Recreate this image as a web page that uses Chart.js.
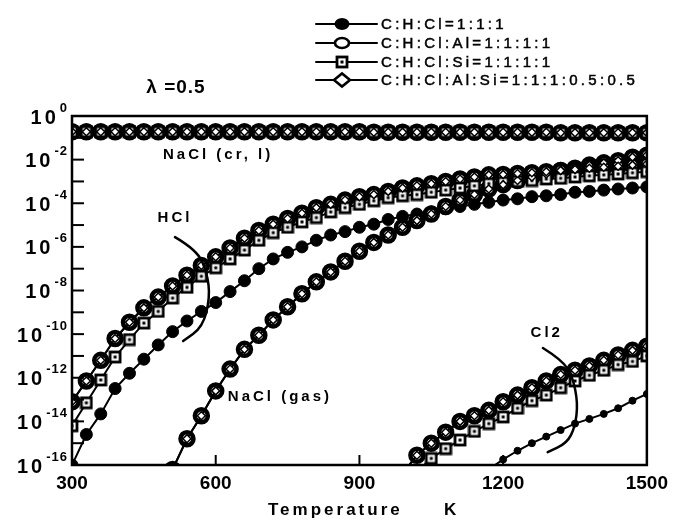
<!DOCTYPE html>
<html>
<head>
<meta charset="utf-8">
<script src="https://cdn.jsdelivr.net/npm/chart.js@4.4.1/dist/chart.umd.min.js"></script>
<style>
  html, body { margin: 0; padding: 0; background: #fff; }
  #wrap { width: 675px; height: 525px; }
</style>
</head>
<body>
<div id="wrap"><canvas id="chart" width="675" height="525"></canvas></div>
<script>
var ctx = document.getElementById("chart");

// sampling temperatures (K)
var temps = [300,330,360,390,420,450,480,510,540,570,600,630,660,690,720,750,780,810,840,870,
             900,930,960,990,1020,1050,1080,1110,1140,1170,1200,1230,1260,1290,1320,1350,1380,1410,1440,1470,1500];
var gasTemps = [510,540,570,600,630,660,690,720,750,780,810,840,870,900,930,960,990,1020,1050,1080,
                1110,1140,1170,1200,1230,1260,1290,1320,1350,1380,1410,1440,1470,1500];
var cl2Temps = [990,1020,1050,1080,1110,1140,1170,1200,1230,1260,1290,1320,1350,1380,1410,1440,1470,1500];
var cl2SiTemps = [1020,1050,1080,1110,1140,1170,1200,1230,1260,1290,1320,1350,1380,1410,1440,1470,1500];
var cl2CTemps = [1170,1200,1230,1260,1290,1320,1350,1380,1410,1440,1470,1500];

// NaCl(cr,l) - all four mixtures lie on top of each other
var naclCr = [0.19,0.19,0.19,0.19,0.19,0.19,0.19,0.19,0.19,0.19,0.19,0.19,0.19,0.19,0.19,0.19,0.19,0.19,0.19,0.19,
              0.19,0.18,0.18,0.18,0.18,0.18,0.18,0.18,0.18,0.18,0.18,0.18,0.18,0.18,0.17,0.17,0.17,0.17,0.17,0.17,0.17];

// HCl
var hclC = [1e-16,2.5e-15,2.2e-14,3.2e-13,1.6e-12,7.1e-12,3.2e-11,1.3e-10,4.0e-10,1.1e-9,2.8e-9,8.9e-9,2.8e-8,1.0e-7,2.8e-7,
            5.6e-7,1.0e-6,2.0e-6,3.5e-6,5.0e-6,7.9e-6,1.1e-5,1.8e-5,2.5e-5,3.2e-5,4.0e-5,5.6e-5,7.1e-5,8.9e-5,1.1e-4,
            1.4e-4,1.6e-4,2.0e-4,2.2e-4,2.5e-4,3.2e-4,3.5e-4,4.0e-4,4.5e-4,5.0e-4,5.6e-4];
var hclAl = [7.9e-14,7.1e-13,6.3e-12,6.3e-11,3.5e-10,1.6e-9,5.0e-9,1.6e-8,5.0e-8,1.4e-7,3.5e-7,8.9e-7,2.5e-6,5.6e-6,1.1e-5,
             2.0e-5,3.5e-5,6.3e-5,8.9e-5,1.4e-4,2.0e-4,2.5e-4,3.5e-4,5.0e-4,6.3e-4,7.9e-4,1.0e-3,1.3e-3,1.6e-3,2.0e-3,
             2.1e-3,2.3e-3,2.5e-3,2.8e-3,3.2e-3,3.5e-3,4.0e-3,4.5e-3,5.0e-3,5.6e-3,6.3e-3];
var hclSi = [6.3e-15,7.1e-14,7.9e-13,8.9e-12,5.6e-11,3.2e-10,1.1e-9,4.5e-9,1.4e-8,4.5e-8,1.1e-7,2.8e-7,7.1e-7,2.0e-6,4.5e-6,
             7.9e-6,1.4e-5,2.2e-5,4.0e-5,6.3e-5,8.9e-5,1.3e-4,1.8e-4,2.2e-4,2.5e-4,3.2e-4,4.0e-4,5.0e-4,6.3e-4,7.9e-4,
             8.9e-4,1.0e-3,1.1e-3,1.3e-3,1.4e-3,1.6e-3,1.8e-3,2.0e-3,2.2e-3,2.5e-3,2.8e-3];

// NaCl(gas), Al containing mixtures
var naclGas = [6.3e-17,1.6e-15,1.8e-14,2.5e-13,2.5e-12,2.0e-11,8.9e-11,4.5e-10,1.8e-9,7.1e-9,2.5e-8,7.1e-8,2.2e-7,6.3e-7,
               1.6e-6,3.5e-6,7.9e-6,1.6e-5,3.2e-5,7.1e-5,1.4e-4,2.5e-4,4.5e-4,7.1e-4,1.1e-3,1.6e-3,2.2e-3,3.2e-3,4.0e-3,
               5.6e-3,7.1e-3,8.9e-3,1.3e-2,1.6e-2];

// Cl2
var cl2Al = [4.0e-17,2.8e-16,1.0e-15,3.2e-15,1.0e-14,1.8e-14,3.2e-14,7.9e-14,1.6e-13,3.5e-13,7.1e-13,1.4e-12,2.2e-12,3.5e-12,
             6.3e-12,1.1e-11,1.8e-11,2.8e-11];
var cl2Si = [5.0e-17,2.0e-16,5.6e-16,1.4e-15,3.5e-15,7.9e-15,1.6e-14,4.0e-14,8.9e-14,1.6e-13,3.5e-13,7.1e-13,1.3e-12,2.2e-12,
             4.0e-12,5.6e-12,1.0e-11];
var cl2C = [6.3e-17,1.8e-16,4.5e-16,1.0e-15,2.0e-15,4.0e-15,7.9e-15,1.3e-14,2.2e-14,4.0e-14,8.9e-14,1.8e-13];

var legendNames = ["C:H:Cl=1:1:1", "C:H:Cl:Al=1:1:1:1", "C:H:Cl:Si=1:1:1:1", "C:H:Cl:Al:Si=1:1:1:0.5:0.5"];
var xTicks = [300, 600, 900, 1200, 1500];
var yExps = [0, -2, -4, -6, -8, -10, -12, -14, -16];

// labels written inside the plot (temperature, value)
var notes = [
  { text: "NaCl (cr, l)", t: 605, v: 1.6e-2 },
  { text: "HCl", t: 515, v: 2.1e-5 },
  { text: "NaCl (gas)", t: 734, v: 1.3e-13 },
  { text: "Cl2", t: 1291, v: 1.1e-10 }
];
var hclBracket = [[515,2.8e-6],[561,7.2e-7],[582,6.3e-8],[588,5.0e-9],[573,2.1e-10],[532,4.8e-11]];
var cl2Bracket = [[1283,2.3e-11],[1323,6.5e-12],[1345,1.1e-12],[1356,6.9e-14],[1350,5.5e-15],[1333,1.0e-15],[1293,3.9e-16]];

var FONT = "'Liberation Sans', Arial, sans-serif";

function pts(xs, ys) {
  return xs.map(function (x, i) { return { x: x, y: ys[i] }; });
}

function squareDot() {
  var c = document.createElement("canvas");
  c.width = 14; c.height = 14;
  var g = c.getContext("2d");
  g.fillStyle = "#fff"; g.fillRect(1, 1, 12, 12);
  g.lineWidth = 2.8; g.strokeStyle = "#000"; g.strokeRect(2, 2, 10, 10);
  g.fillStyle = "#000"; g.fillRect(5.5, 5.5, 3, 3);
  return c;
}
var sqImg = squareDot();

var looks = {
  c:    { pointStyle: "circle", pointRadius: 6, pointBackgroundColor: "#000", pointBorderColor: "#000", pointBorderWidth: 1, order: 3 },
  al:   { pointStyle: "circle", pointRadius: 6.5, pointBackgroundColor: "#fff", pointBorderColor: "#000", pointBorderWidth: 4.5, order: 2 },
  si:   { pointStyle: sqImg, pointRadius: 7, order: 1 },
  alsi: { pointStyle: "rectRot", pointRadius: 4, pointBackgroundColor: "#fff", pointBorderColor: "#000", pointBorderWidth: 1.5, order: 0 }
};

function ds(look, xs, ys, extra) {
  var d = Object.assign({
    data: pts(xs, ys),
    borderColor: "#000",
    borderWidth: 2,
    fill: false,
    tension: 0,
    pointHoverRadius: 0
  }, looks[look], extra || {});
  return d;
}

var datasets = [
  ds("c", temps, naclCr), ds("c", temps, hclC), ds("c", cl2CTemps, cl2C, { pointRadius: 3.5 }),
  ds("al", temps, naclCr), ds("al", temps, hclAl), ds("al", gasTemps, naclGas), ds("al", cl2Temps, cl2Al),
  ds("si", temps, naclCr), ds("si", temps, hclSi), ds("si", cl2SiTemps, cl2Si),
  // Al:Si mixture falls on the Al curves
  ds("alsi", temps, naclCr), ds("alsi", temps, hclAl), ds("alsi", gasTemps, naclGas), ds("alsi", cl2Temps, cl2Al)
];

function smooth(g, p) {
  g.beginPath();
  g.moveTo(p[0][0], p[0][1]);
  for (var i = 1; i < p.length - 1; i++) {
    var mx = (p[i][0] + p[i + 1][0]) / 2, my = (p[i][1] + p[i + 1][1]) / 2;
    g.quadraticCurveTo(p[i][0], p[i][1], mx, my);
  }
  g.lineTo(p[p.length - 1][0], p[p.length - 1][1]);
  g.stroke();
}

function legendMarker(g, i, x, y) {
  g.lineWidth = 2.6; g.strokeStyle = "#000";
  if (i === 0) {
    g.fillStyle = "#000";
    g.beginPath(); g.ellipse(x, y, 7.5, 6, 0, 0, Math.PI * 2); g.fill();
  } else if (i === 1) {
    g.fillStyle = "#fff";
    g.beginPath(); g.ellipse(x, y, 7, 5, 0, 0, Math.PI * 2); g.fill(); g.stroke();
  } else if (i === 2) {
    g.drawImage(sqImg, x - 7, y - 7);
  } else {
    g.fillStyle = "#fff";
    g.beginPath(); g.moveTo(x - 8, y); g.lineTo(x, y - 6.5); g.lineTo(x + 8, y); g.lineTo(x, y + 6.5); g.closePath();
    g.fill(); g.stroke();
  }
  g.fillStyle = "#000";
}

var decor = {
  id: "decor",
  afterDraw: function (chart) {
    var g = chart.ctx, a = chart.chartArea;
    var xs = chart.scales.x, ys = chart.scales.y;
    g.save();
    g.strokeStyle = "#000"; g.fillStyle = "#000";

    // frame
    g.lineWidth = 2.5;
    g.strokeRect(a.left, a.top, a.right - a.left, a.bottom - a.top);

    // inward ticks
    g.lineWidth = 2;
    for (var e = -15; e <= -1; e++) {
      var py = ys.getPixelForValue(Math.pow(10, e));
      g.beginPath(); g.moveTo(a.left, py); g.lineTo(a.left + 12, py); g.stroke();
    }
    xTicks.slice(1, -1).forEach(function (t) {
      var px = xs.getPixelForValue(t);
      g.beginPath(); g.moveTo(px, a.bottom); g.lineTo(px, a.bottom - 10); g.stroke();
    });

    // y labels 10^n
    g.textBaseline = "middle";
    yExps.forEach(function (n) {
      var py = ys.getPixelForValue(Math.pow(10, n));
      g.letterSpacing = "1px";
      g.font = "bold 13px " + FONT;
      g.textAlign = "right";
      var ex = String(n);
      g.fillText(ex, a.left - 4, py - 8);
      var w = g.measureText(ex).width;
      g.font = "bold 20px " + FONT;
      g.letterSpacing = "3px";
      g.fillText("10", a.left - 4 - w - 1, py + 2);
    });

    // axis title
    g.letterSpacing = "3px";
    g.font = "bold 17px " + FONT;
    g.textAlign = "left";
    g.fillText("Temperature", 268, 510);
    g.fillText("K", 444, 510);

    // lambda
    g.letterSpacing = "1px";
    g.font = "bold 19px " + FONT;
    g.textAlign = "center";
    g.fillText("\u03bb =0.5", 176, 88);

    // notes
    g.letterSpacing = "3px";
    g.font = "bold 15px " + FONT;
    notes.forEach(function (n) {
      g.fillText(n.text, xs.getPixelForValue(n.t), ys.getPixelForValue(n.v));
    });

    // brackets
    g.letterSpacing = "0px";
    g.lineWidth = 2.5; g.lineCap = "round";
    [hclBracket, cl2Bracket].forEach(function (b) {
      smooth(g, b.map(function (p) { return [xs.getPixelForValue(p[0]), ys.getPixelForValue(p[1])]; }));
    });

    // legend
    var rows = [24, 43, 62, 80];
    legendNames.forEach(function (name, i) {
      var y = rows[i];
      g.lineWidth = 2;
      g.beginPath(); g.moveTo(316, y); g.lineTo(377, y); g.stroke();
      legendMarker(g, i, 342, y);
      g.letterSpacing = "3.3px";
      g.font = "15px " + FONT;
      g.textAlign = "left";
      g.fillStyle = "#000";
      g.lineWidth = 0.5;
      g.fillText(name, 381, y + 1);
      g.strokeText(name, 381, y + 1);
    });
    g.restore();
  }
};

var chart = new Chart(ctx, {
  type: "line",
  data: { datasets: datasets },
  options: {
    responsive: false,
    animation: false,
    events: [],
    layout: { padding: { top: 116, right: 28, left: 0, bottom: 0 } },
    plugins: { legend: { display: false }, tooltip: { enabled: false } },
    scales: {
      x: {
        type: "linear", min: 300, max: 1500,
        afterBuildTicks: function (s) { s.ticks = xTicks.map(function (v) { return { value: v }; }); },
        afterFit: function (s) { s.height = 60; },
        grid: { display: false, drawTicks: false },
        border: { display: false },
        ticks: {
          color: "#000", padding: 7, maxRotation: 0,
          font: { family: FONT, size: 19, weight: "bold" },
          callback: function (v) { return String(v); }
        }
      },
      y: {
        type: "logarithmic", min: 1e-16, max: 1,
        afterBuildTicks: function (s) { s.ticks = yExps.map(function (n) { return { value: Math.pow(10, n) }; }); },
        afterFit: function (s) { s.width = 72; },
        grid: { display: false, drawTicks: false },
        border: { display: false },
        ticks: { display: false }
      }
    }
  },
  plugins: [decor]
});
</script>
</body>
</html>
